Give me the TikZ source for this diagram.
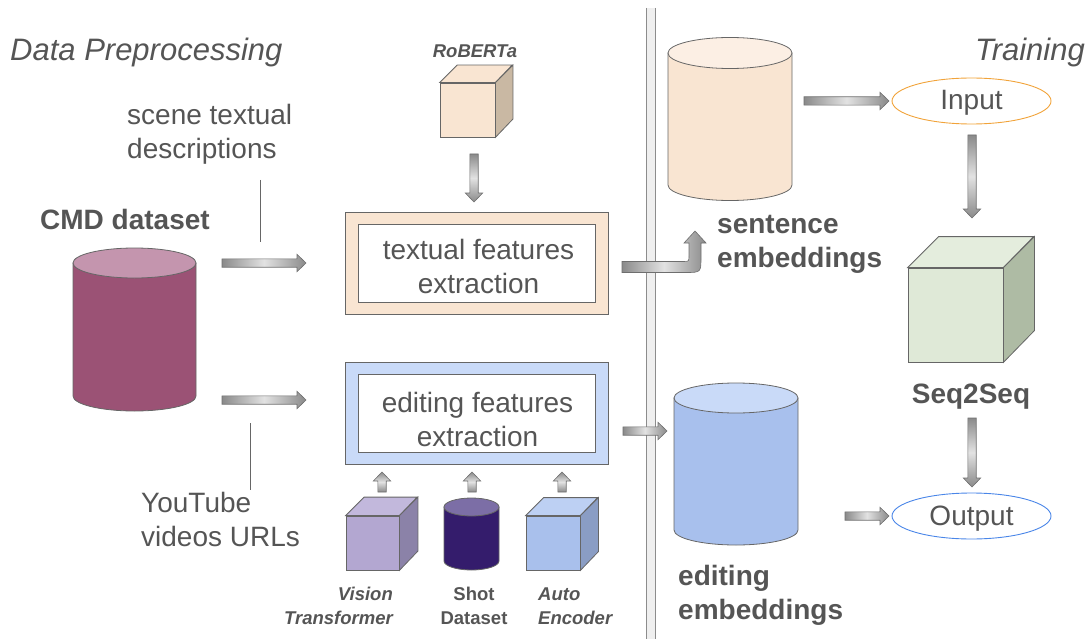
\documentclass[tikz,border=0pt]{standalone}
\usepackage{fontspec}
\setmainfont{Liberation Sans}
\usetikzlibrary{calc,shapes.geometric}

\definecolor{txt}{HTML}{555555}
\definecolor{edge}{HTML}{666666}
\definecolor{ad}{HTML}{8A8A8A}
\definecolor{al}{HTML}{E2E2E2}
\definecolor{arrowedge}{HTML}{6E6E6E}
\definecolor{peach}{HTML}{F9E5D2}
\definecolor{peachtop}{HTML}{FCEFE4}
\definecolor{peachside}{HTML}{C9B8A3}
\definecolor{plum}{HTML}{9B5275}
\definecolor{plumtop}{HTML}{C495AE}
\definecolor{lblue}{HTML}{C9DAF8}
\definecolor{mblue}{HTML}{A8C0ED}
\definecolor{vfront}{HTML}{B3A7D1}
\definecolor{vtop}{HTML}{C2B8DC}
\definecolor{vside}{HTML}{8B82A8}
\definecolor{navy}{HTML}{341C6C}
\definecolor{navytop}{HTML}{7C6EA6}
\definecolor{afront}{HTML}{A9C0EC}
\definecolor{atop}{HTML}{BDD0F3}
\definecolor{aside}{HTML}{8A9DC4}
\definecolor{sfront}{HTML}{DFE9D7}
\definecolor{stop}{HTML}{E4EDDD}
\definecolor{sside}{HTML}{AEBBA4}
\definecolor{inorange}{HTML}{F1A33A}
\definecolor{outblue}{HTML}{4A86E8}
\definecolor{divfill}{HTML}{EFEFEF}
\definecolor{divline}{HTML}{8C8C8C}

\tikzset{
  shapeline/.style={draw=edge, line width=0.8pt},
  blk/.style={draw=arrowedge, line width=0.6pt},
  lbl/.style={text=txt, inner sep=0pt, font=\fontsize{28}{33.5}\selectfont},
  lblb/.style={text=txt, inner sep=0pt, font=\bfseries\fontsize{28}{34}\selectfont},
  tiny/.style={text=txt, inner sep=0pt, font=\bfseries\fontsize{18.5}{24}\selectfont},
  tinyit/.style={tiny, font=\bfseries\itshape\fontsize{18.5}{24}\selectfont},
  heading/.style={text=txt, inner sep=0pt, font=\itshape\fontsize{31}{36}\selectfont},
  outerbox/.style={shapeline, minimum width=263, minimum height=102, inner sep=0pt},
  innerbox/.style={shapeline, fill=white, minimum width=237, minimum height=78,
    inner sep=0pt},
  boxtext/.style={inner sep=0pt, align=center, text=txt, font=\fontsize{28}{34}\selectfont},
  port/.style={ellipse, draw, line width=0.9pt, minimum width=159, minimum height=46,
    inner sep=0pt},
}

% horizontal block arrow, tail #1 to tip #2
\newcommand\harr[2]{\shadedraw[blk, left color=ad, right color=ad, middle color=al]
  ($(#1)+(0,-4.2)$) -- ($(#2)+(-9,-4.2)$) -- ($(#2)+(-9,-8.7)$) -- (#2)
  -- ($(#2)+(-9,8.7)$) -- ($(#2)+(-9,4.2)$) -- ($(#1)+(0,4.2)$) -- cycle;}
% vertical block arrow, tail #1 to tip #2, #3 = offset of head base from tip
\newcommand\varr[3]{\shadedraw[blk, top color=ad, bottom color=ad, middle color=al]
  ($(#1)+(-4.2,0)$) -- ($(#2)+(-4.2,#3)$) -- ($(#2)+(-8.7,#3)$) -- (#2)
  -- ($(#2)+(8.7,#3)$) -- ($(#2)+(4.2,#3)$) -- ($(#1)+(4.2,0)$) -- cycle;}
% cylinder: name, cx, top-ellipse y, bottom-ellipse y, rx, ry, body, lid
\newcommand\cyl[8]{%
  \filldraw[shapeline, fill=#7] (#2-#5,#3) -- (#2-#5,#4)
    arc[start angle=180, end angle=0, x radius=#5, y radius=#6] -- (#2+#5,#3) -- cycle;
  \filldraw[shapeline, fill=#8] (#2,#3) ellipse[x radius=#5, y radius=#6];
  \node[inner sep=0pt, minimum width=2*#5, minimum height=#4-#3+2*#6] (#1) at (#2,{(#3+#4)/2}) {};}
% cube: name, cx, cy (front face), w, h, depth, front, top, side
\newcommand\cube[9]{%
  \node[shapeline, fill=#7, minimum width=#4, minimum height=#5, inner sep=0pt] (#1) at (#2,#3) {};
  \filldraw[shapeline, fill=#8] (#1.north west) -- ++(#6,-#6) -- ++(#4,0) -- (#1.north east) -- cycle;
  \filldraw[shapeline, fill=#9] (#1.north east) -- ++(#6,-#6) -- ++(0,#5) -- (#1.south east) -- cycle;}

\begin{document}
\begin{tikzpicture}[x=1pt, y=-1pt]
\useasboundingbox (0,0) rectangle (1091,639);

% divider between the two stages
\fill[divfill] (646,8) rectangle (655,639);
\draw[divline, line width=0.8pt] (646,8) -- (646,639) (655,8) -- (655,639);

% stage headings
\node[heading, anchor=west] (hdata) at (10,52.5) {Data Preprocessing};
\node[heading, anchor=east] (htrain) at (1085,52.5) {Training};

% source dataset
\node[lblb] (cmdlbl) at (125,219.5) {CMD dataset};
\cyl{cmd}{134.5}{263}{396}{61.5}{15}{plum}{plumtop}

\node[lbl, anchor=west, align=left] (scene) at (127,134.5) {scene textual\\descriptions};
\node[lbl, anchor=west, align=left] (yt) at (141,519.5) {YouTube\\videos URLs};

% feature extraction blocks
\node[outerbox, fill=peach] (tfo) at (476.5,263) {};
\node[innerbox] (tfe) at (476.5,263) {};
\node[boxtext] (tfetext) at (478.5,266) {textual features\\extraction};
\node[outerbox, fill=lblue] (efo) at (476.5,413) {};
\node[innerbox] (efe) at (476.5,413) {};
\node[boxtext] (efetext) at (477.5,419.5) {editing features\\extraction};

% models feeding the extractors
\node[tinyit] (robertalbl) at (475,51.5) {RoBERTa};
\cube{roberta}{467.5}{110}{55}{54}{17.5}{peach}{peach}{peachside}

\cube{vit}{372.5}{543}{53}{54}{18.5}{vfront}{vtop}{vside}
\cyl{shot}{471.5}{507}{561}{27.5}{9}{navy}{navytop}
\cube{ae}{553}{543}{54}{54}{18}{afront}{atop}{aside}
\node[tinyit, anchor=east, align=right] (vitlbl) at (393,606) {Vision\\Transformer};
\node[tiny, align=center] (shotlbl) at (474,606) {Shot\\Dataset};
\node[tinyit, anchor=west, align=left] (aelbl) at (538,606) {Auto\\Encoder};

% embeddings
\cyl{sent}{730}{53}{185}{62}{15.5}{peach}{peachtop}
\node[lblb, anchor=west, align=left] (sentlbl) at (717,244) {sentence\\embeddings};
\cyl{edit}{736}{398}{530}{62}{15}{mblue}{lblue}
\node[lblb, anchor=west, align=left] (editlbl) at (678,595.5) {editing\\embeddings};

% training model
\node[port, draw=inorange] (input) at (971.5,101) {};
\node[boxtext] (inputtext) at (971.5,103) {Input};
\cube{seq}{955.5}{315}{95}{94}{31}{sfront}{stop}{sside}
\node[lblb] (seqlbl) at (971,397) {Seq2Seq};
\node[port, draw=outblue] (output) at (971.5,516) {};
\node[boxtext] (outputtext) at (971.5,519) {Output};

% arrow end points
\coordinate (c1s) at (222,263);  \coordinate (c1e) at (306,263);
\coordinate (c2s) at (222,400);  \coordinate (c2e) at (306,400);
\coordinate (rbs) at (474,154);  \coordinate (rbe) at (474,202);
\coordinate (eds) at (623,431);  \coordinate (ede) at (667,431);
\coordinate (sis) at (804,101);  \coordinate (sie) at (889,101);
\coordinate (iss) at (972,135);  \coordinate (ise) at (972,218);
\coordinate (sos) at (972,418);  \coordinate (soe) at (972,487);
\coordinate (eos) at (845,516);  \coordinate (eoe) at (889,516);
\coordinate (u1s) at (382,492);  \coordinate (u1e) at (382,472);
\coordinate (u2s) at (472,492);  \coordinate (u2e) at (472,472);
\coordinate (u3s) at (562,492);  \coordinate (u3e) at (562,472);

% leader lines from the source labels
\coordinate (t1a) at (260,180); \coordinate (t1b) at (260,242);
\coordinate (t2a) at (250,423); \coordinate (t2b) at (250,490);
\draw[edge, line width=0.9pt] (t1a) -- (t1b);
\draw[edge, line width=0.9pt] (t2a) -- (t2b);

% block arrows
\harr{c1s}{c1e}
\harr{c2s}{c2e}
\varr{rbs}{rbe}{-9}
\harr{eds}{ede}
\harr{sis}{sie}
\varr{iss}{ise}{-9}
\varr{sos}{soe}{-9}
\harr{eos}{eoe}
\varr{u1s}{u1e}{9}
\varr{u2s}{u2e}{9}
\varr{u3s}{u3e}{9}

% bent arrow from text features up to sentence embeddings
\shadedraw[blk, left color=ad, right color=ad, middle color=al]
  (622,261.5) -- (683,261.5) .. controls (689,261.5) .. (689,255.5) -- (689,243)
  -- (684,243) -- (695,231) -- (706,243) -- (701,243) -- (701,257)
  .. controls (701,272.5) .. (685.5,272.5) -- (622,272.5) -- cycle;
\end{tikzpicture}
\end{document}
